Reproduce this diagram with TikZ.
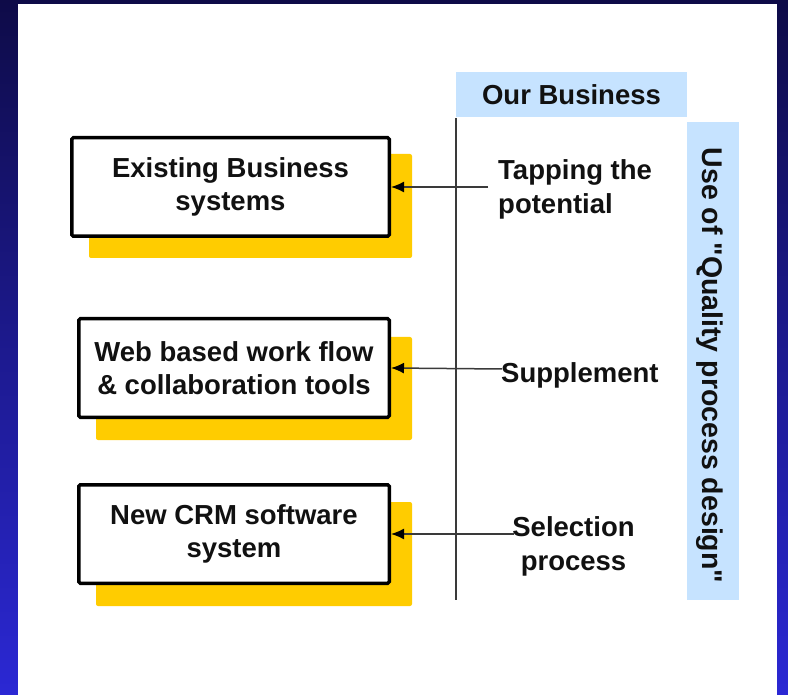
\documentclass[tikz,border=0pt]{standalone}
\usepackage{fontspec}
\setmainfont{Liberation Sans}[Ligatures=TeXOff]
\usetikzlibrary{arrows.meta}
\definecolor{navytop}{HTML}{0E0B48}
\definecolor{navybot}{HTML}{2B28D4}
\definecolor{shadowyellow}{HTML}{FFCC00}
\definecolor{paleblue}{HTML}{C6E3FF}
\definecolor{rulegray}{HTML}{3A3A3A}
\definecolor{inkblack}{HTML}{111111}
\begin{document}
\begin{tikzpicture}[x=1pt,y=-1pt,
  txt/.style={font=\fontsize{27.5}{33.5}\selectfont\bfseries, text=inkblack, inner sep=0pt},
  sysbox/.style={txt, draw=black, line width=3.5pt, fill=white, rounded corners=1.5pt,
                 minimum height=98.5pt, align=center},
  backing/.style={fill=shadowyellow, rounded corners=2pt},
  feed/.style={draw=rulegray, line width=1.5pt, -{Latex[length=13pt,width=11pt,color=black]}},
  band/.style={fill=paleblue, inner sep=0pt},
  divider/.style={draw=rulegray, line width=1.5pt}]
\useasboundingbox (0,0) rectangle (788,695);

% slide frame and white page
\shade[top color=navytop, bottom color=navybot] (0,0) rectangle (788,695);
\fill[white] (18,4) rectangle (777,695);

% yellow backing plates behind the system boxes
\fill[backing] (89,154) rectangle (412,258);
\fill[backing] (96,337) rectangle (412,440);
\fill[backing] (96,502) rectangle (412,606);

% system boxes
\node[sysbox, minimum width=317.5pt] (b1) at (230.5,187) {Existing Business\\systems};
\node[sysbox, minimum width=310.5pt] (b2) at (234,368) {Web based work flow\\\& collaboration tools};
\node[sysbox, minimum width=310.5pt] (b3) at (234,534) {New CRM software\\system};

% header bands
\node[band, minimum width=231pt, minimum height=45pt] (ours) at (571.5,94.5) {};
\node[txt] (ourslbl) at (ours.center) {Our Business};
\node[band, minimum width=52pt, minimum height=478pt] (qual) at (713,361) {};
\node[txt, font=\fontsize{28.5}{34}\selectfont\bfseries, rotate=-90, anchor=base] (quallbl)
  at (702,365.5) {Use of "Quality process design"};

% divider line
\coordinate (vtop) at (456,118);
\coordinate (vbot) at (456,600);
\draw[divider] (vtop) -- (vbot);

% activity labels
\node[txt, align=left, anchor=west] (l1) at (498,189.5) {Tapping the\\potential};
\node[txt, anchor=base west] (l2) at (501,382) {Supplement};
\node[txt, align=center] (l3) at (573.5,546.5) {Selection\\process};

% feeding arrows
\coordinate (t1) at (488,187);
\coordinate (t2) at (502,369);
\coordinate (t3) at (514,534);
\draw[feed] (t1) -- (b1.east);
\draw[feed] (t2) -- (b2.east);
\draw[feed] (t3) -- (b3.east);
\end{tikzpicture}
\end{document}
